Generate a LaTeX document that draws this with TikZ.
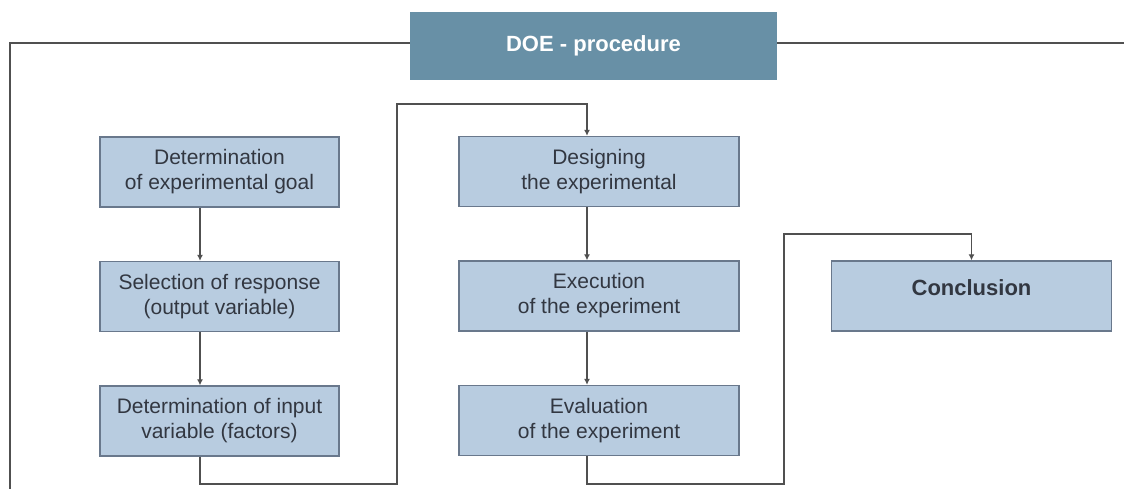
\documentclass[tikz,border=0pt]{standalone}
\usepackage{fontspec}
\setmainfont{Liberation Sans}
\usetikzlibrary{arrows.meta}
\definecolor{boxfill}{RGB}{184,204,224}
\definecolor{boxline}{RGB}{105,120,140}
\definecolor{headfill}{RGB}{104,144,166}
\definecolor{txt}{RGB}{50,55,65}
\definecolor{wire}{RGB}{80,80,80}
\tikzset{
  stepbox/.style={draw=boxline, fill=boxfill, line width=1.3pt, minimum height=70pt,
    align=center, text=txt, font=\fontsize{21}{25}\selectfont, inner sep=0pt},
  leftbox/.style={stepbox, minimum width=239pt},
  midbox/.style={stepbox, minimum width=280pt},
  headbox/.style={fill=headfill, minimum width=367pt, minimum height=68pt, text=white,
    font=\fontsize{22}{26}\selectfont\bfseries, inner sep=0pt},
  conn/.style={draw=wire, line width=1.5pt, -{Latex[length=6pt,width=6pt]}},
  frameline/.style={draw=wire, line width=2pt}
}
\begin{document}
\begin{tikzpicture}[x=1pt,y=-1pt]
\useasboundingbox (0,0) rectangle (1124,489);
% frame
\draw[frameline] (10,489) -- (10,43) -- (1124,43);
\node[headbox] (head) at (593.5,46) {DOE - procedure};
% left column
\node[leftbox] (l1) at (219.5,172) {Determination\\of experimental goal};
\node[leftbox] (l2) at (219.5,296.5) {Selection of response\\(output variable)};
\node[leftbox] (l3) at (219.5,421) {Determination of input\\variable (factors)};
% middle column
\node[midbox] (m1) at (599,171.5) {Designing\\the experimental};
\node[midbox] (m2) at (599,296) {Execution\\of the experiment};
\node[midbox] (m3) at (599,420.5) {Evaluation\\of the experiment};
% right
\node[stepbox, minimum width=280pt, minimum height=70pt, font=\fontsize{22}{26}\selectfont\bfseries, text height=16pt, text depth=18pt] (c) at (971.5,296) {Conclusion};
% connectors
\coordinate (a1) at (397,484);
\coordinate (a2) at (397,104);
\coordinate (b1) at (784,484);
\coordinate (b2) at (784,234);
\draw[conn] (l1.south -| 200,0) -- (l2.north -| 200,0);
\draw[conn] (l2.south -| 200,0) -- (l3.north -| 200,0);
\draw[conn] (m1.south -| 587,0) -- (m2.north -| 587,0);
\draw[conn] (m2.south -| 587,0) -- (m3.north -| 587,0);
\draw[conn] (l3.south -| 200,0) |- (a1) -- (a2) -| (m1.north -| 587,0);
\draw[conn] (m3.south -| 587,0) |- (b1) -- (b2) -| (c.north);
\end{tikzpicture}
\end{document}
